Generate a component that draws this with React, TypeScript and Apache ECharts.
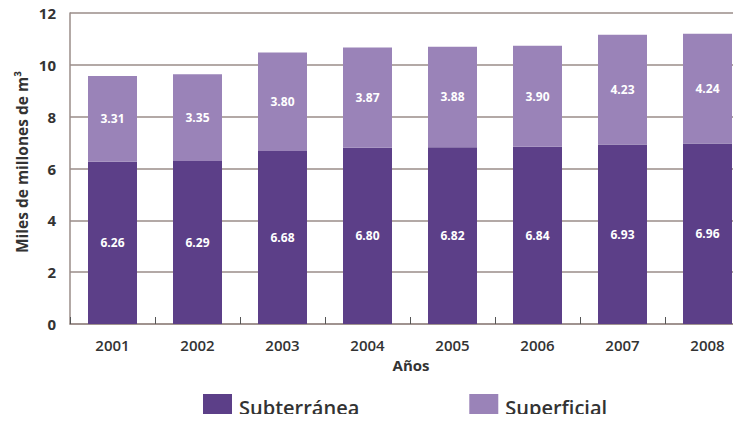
import React, { useEffect, useRef } from "react";
import * as echarts from "echarts";

const years = ["2001", "2002", "2003", "2004", "2005", "2006", "2007", "2008"];
const subterranea = [6.26, 6.29, 6.68, 6.8, 6.82, 6.84, 6.93, 6.96];
const superficial = [3.31, 3.35, 3.8, 3.87, 3.88, 3.9, 4.23, 4.24];
const seriesNames = ["Subterránea", "Superficial"];

const DARK = "#5c3f88";
const LIGHT = "#9a83b8";
const GRIDC = "#9a8c88";
const TEXT = "#333333";
const FONT = "'Open Sans', 'Noto Sans', sans-serif";

export default function App() {
  const ref = useRef<HTMLDivElement>(null);
  useEffect(() => {
    if (!ref.current) return;
    const chart = echarts.init(ref.current, undefined, { renderer: "svg" });
    const label = {
      show: true,
      position: "inside",
      color: "#ffffff",
      fontFamily: FONT,
      fontWeight: "bold",
      fontSize: 12,
      formatter: (p: any) => Number(p.value).toFixed(2),
    };
    chart.setOption({
      animation: false,
      backgroundColor: "#ffffff",
      grid: { left: 70, top: 13, width: 680, height: 311, containLabel: false },
      legend: {
        data: seriesNames,
        top: 394,
        left: 203,
        padding: 0,
        itemWidth: 29,
        itemHeight: 27,
        itemGap: 110,
        icon: "rect",
        textStyle: { fontFamily: FONT, fontSize: 20, fontWeight: 600, color: TEXT, padding: [0, 0, 0, 2] },
      },
      xAxis: {
        type: "category",
        data: years,
        axisLine: { show: true, lineStyle: { color: GRIDC, width: 1.5 } },
        axisTick: { show: true, inside: true, length: 7, alignWithLabel: false, lineStyle: { color: "#555" } },
        axisLabel: { fontFamily: FONT, fontSize: 15, color: TEXT, margin: 13, fontWeight: 600 },
      },
      yAxis: {
        type: "value",
        min: 0,
        max: 12,
        interval: 2,
        axisLine: { show: true, lineStyle: { color: GRIDC, width: 1.5 } },
        axisTick: { show: false },
        splitLine: { show: true, lineStyle: { color: GRIDC, width: 1.5 } },
        axisLabel: { fontFamily: FONT, fontSize: 15, color: TEXT, fontWeight: "bold", margin: 14 },
      },
      graphic: [
        {
          type: "text",
          x: 22,
          y: 162,
          rotation: Math.PI / 2,
          style: {
            text: "Miles de millones de m³",
            font: `bold 15.5px ${FONT}`,
            fill: TEXT,
            align: "center",
            verticalAlign: "middle",
          },
        },
        {
          type: "text",
          x: 411,
          y: 365,
          style: {
            text: "Años",
            font: `bold 15px ${FONT}`,
            fill: TEXT,
            align: "center",
            verticalAlign: "middle",
          },
        },
      ],
      series: [
        {
          name: seriesNames[0],
          type: "bar",
          stack: "total",
          data: subterranea,
          barWidth: 49,
          itemStyle: { color: DARK },
          label,
        },
        {
          name: seriesNames[1],
          type: "bar",
          stack: "total",
          data: superficial,
          barWidth: 49,
          itemStyle: { color: LIGHT },
          label,
        },
      ],
    });
    return () => chart.dispose();
  }, []);
  return (
    <div style={{ width: 741, height: 422, margin: -8, overflow: "hidden", position: "relative" }}>
      <div ref={ref} style={{ width: 770, height: 440 }} />
    </div>
  );
}
